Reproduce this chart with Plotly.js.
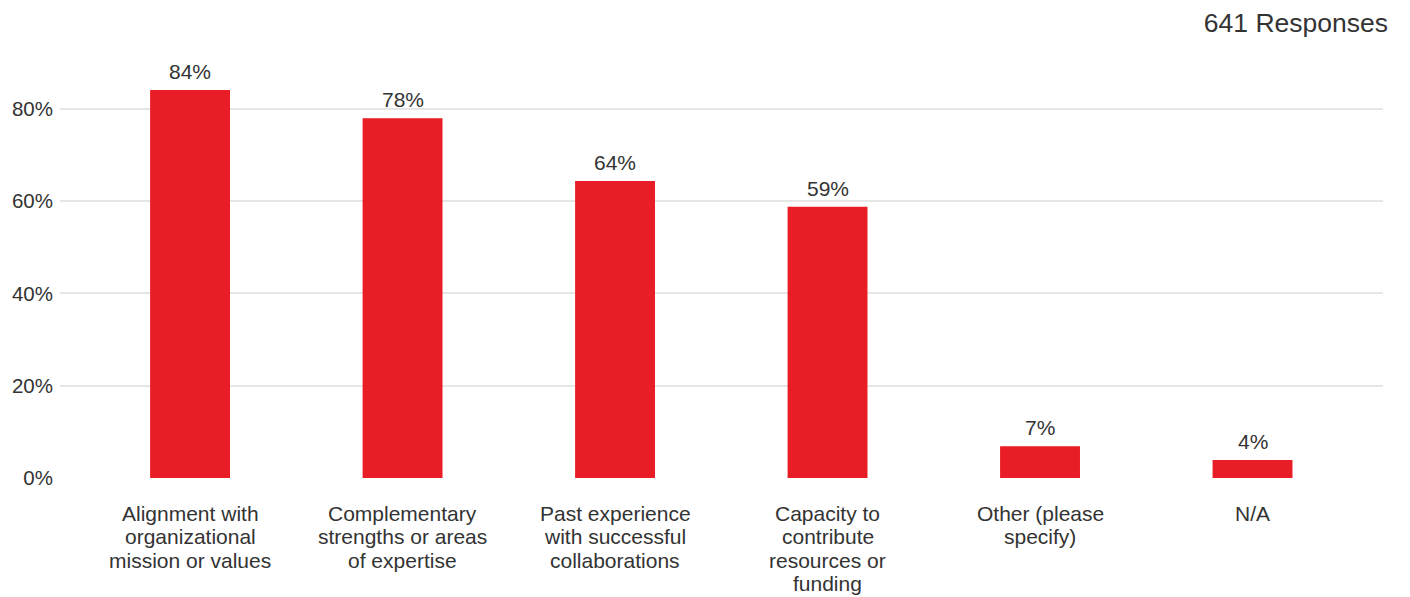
<!DOCTYPE html>
<html>
<head>
<meta charset="utf-8">
<script src="https://cdn.plot.ly/plotly-3.0.1.min.js"></script>
<style>html,body{margin:0;padding:0;background:#fff;}#chart{width:1410px;height:597px;}</style>
</head>
<body>
<div id="chart"></div>
<script>
var categories = [
  "Alignment with<br>organizational<br>mission or values",
  "Complementary<br>strengths or areas<br>of expertise",
  "Past experience<br>with successful<br>collaborations",
  "Capacity to<br>contribute<br>resources or<br>funding",
  "Other (please<br>specify)",
  "N/A"
];
var values = [84.1, 78.0, 64.4, 58.8, 6.9, 3.9];
var valueLabels = ["84%", "78%", "64%", "59%", "7%", "4%"];
var yTickValues = [0, 20, 40, 60, 80];
var yTickLabels = ["0%", "20%", "40%", "60%", "80%"];
var responsesLabel = "641 Responses";

var font = "Liberation Sans, Arial, sans-serif";
var textColor = "#333333";

var trace = {
  type: "bar",
  x: categories,
  y: values,
  marker: {color: "#E91D25"},
  hoverinfo: "none"
};

var annotations = [];
// value labels above bars
categories.forEach(function (c, i) {
  annotations.push({
    x: c, y: values[i], xref: "x", yref: "y",
    text: valueLabels[i], showarrow: false,
    xanchor: "center", yanchor: "bottom", yshift: 5,
    font: {family: font, size: 21, color: textColor}
  });
});
// category labels (multi-line, tighter line spacing)
var linePitch = 23.5;
categories.forEach(function (c) {
  c.split("<br>").forEach(function (line, j) {
    annotations.push({
      x: c, y: 0, xref: "x", yref: "paper",
      text: line, showarrow: false,
      xanchor: "center", yanchor: "middle",
      yshift: -(35 + j * linePitch),
      font: {family: font, size: 21, color: textColor}
    });
  });
});

var layout = {
  width: 1410,
  height: 597,
  margin: {l: 60, r: 27, t: 70, b: 119},
  paper_bgcolor: "#ffffff",
  plot_bgcolor: "#ffffff",
  showlegend: false,
  bargap: 0.624,
  title: {
    text: responsesLabel,
    font: {family: font, size: 26.5, color: textColor},
    xref: "container", yref: "container",
    x: 1388 / 1410, xanchor: "right",
    y: 1 - 23 / 597, yanchor: "middle"
  },
  annotations: annotations,
  xaxis: {
    type: "category",
    range: [-0.612, 5.614],
    showgrid: false,
    zeroline: false,
    showline: false,
    ticks: "",
    showticklabels: false,
    fixedrange: true
  },
  yaxis: {
    range: [0, 88.45],
    tickvals: yTickValues,
    ticktext: yTickLabels,
    showgrid: true,
    gridcolor: "#e6e6e6",
    gridwidth: 2,
    zeroline: false,
    showline: false,
    ticks: "",
    ticklabelstandoff: 6,
    tickfont: {family: font, size: 20.5, color: textColor},
    fixedrange: true
  }
};
Plotly.newPlot("chart", [trace], layout, {displayModeBar: false, staticPlot: true});
</script>
</body>
</html>
